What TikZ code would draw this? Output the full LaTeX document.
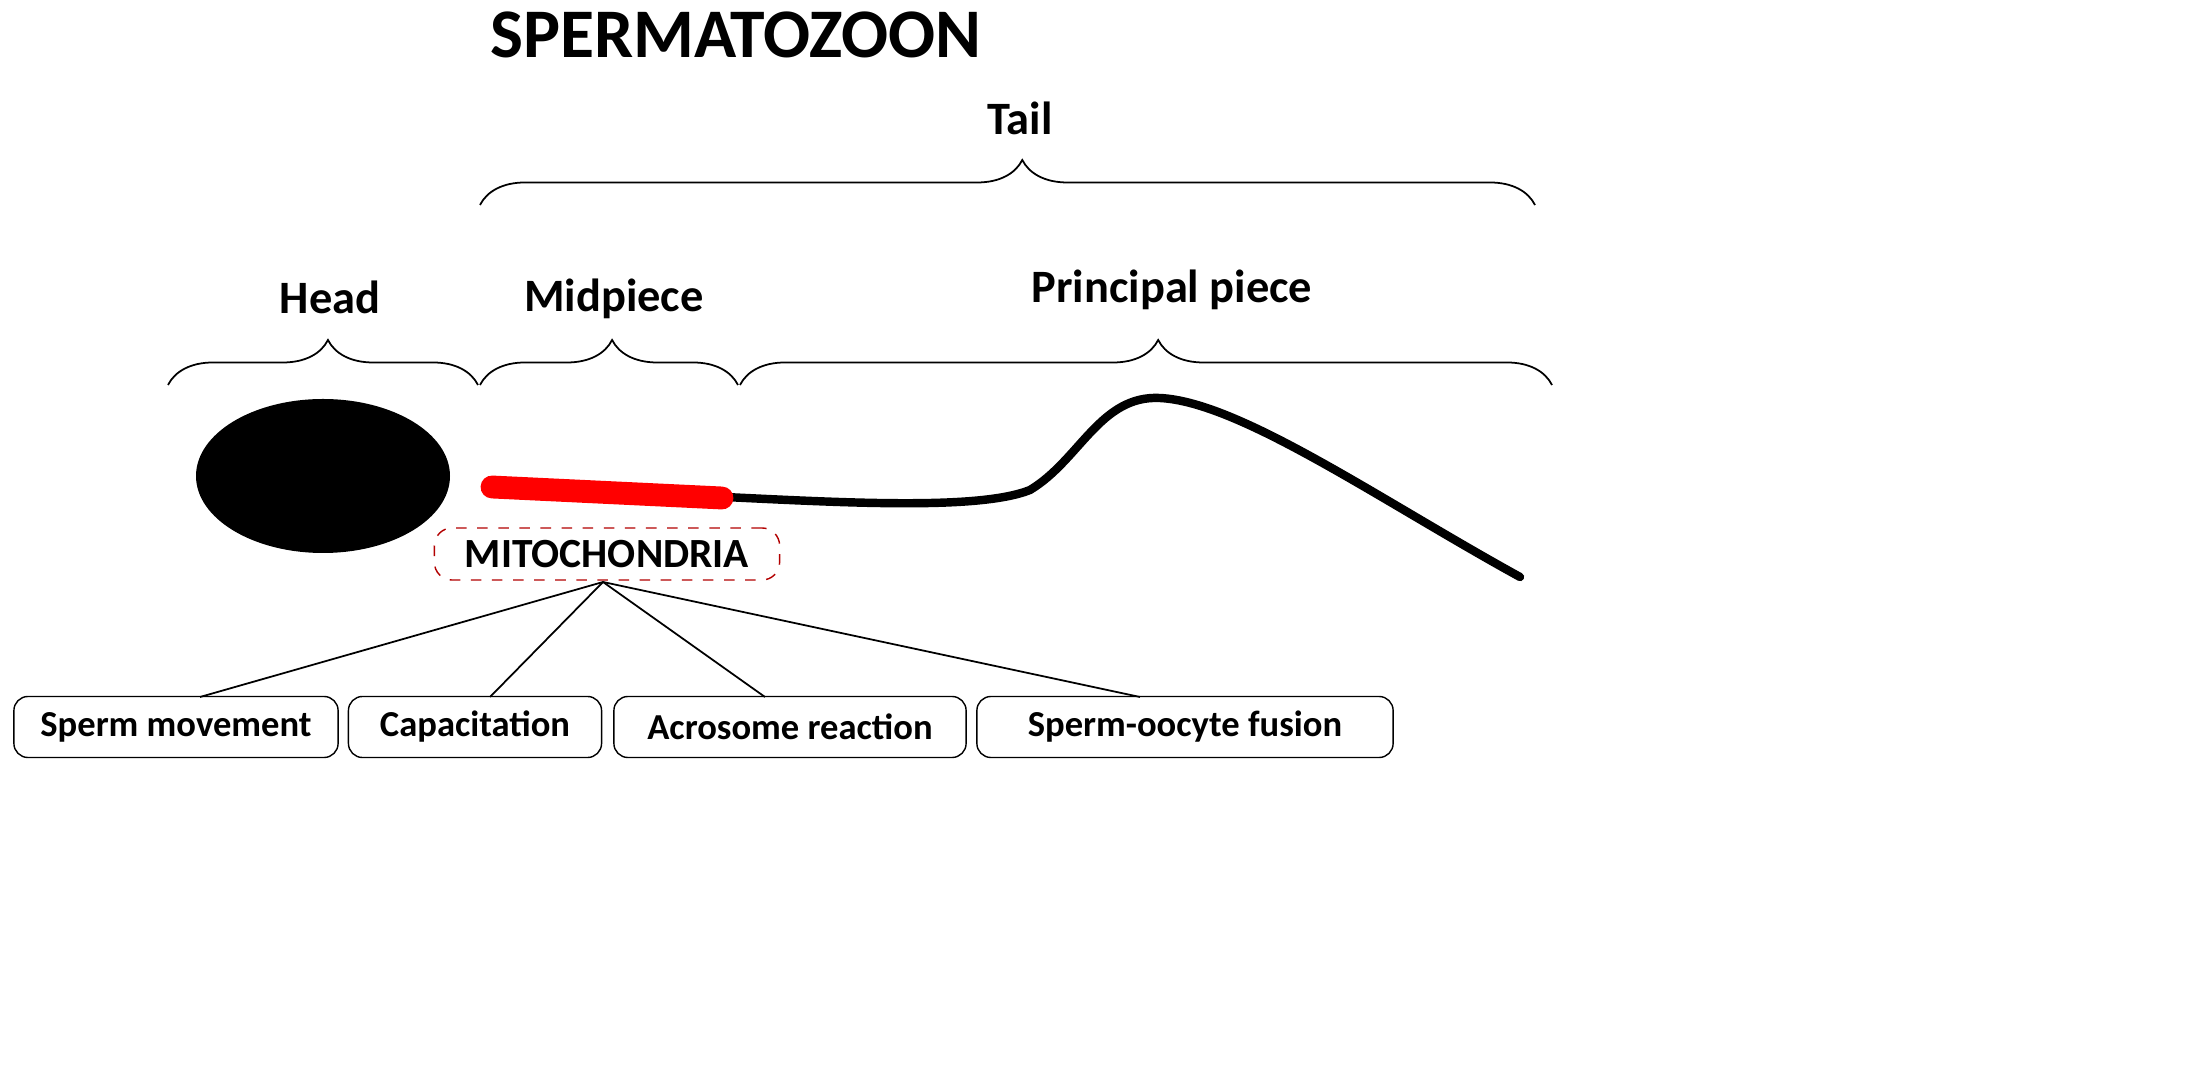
\documentclass[tikz,border=0pt]{standalone}
\usepackage{fontspec}
\setmainfont{Carlito}
\usetikzlibrary{decorations.pathreplacing}
\begin{document}
\begin{tikzpicture}[x=0.01cm,y=-0.01cm,
  br/.style={decorate,decoration={brace,amplitude=4.5mm,aspect=#1},line width=0.5pt},
  lab/.style={font=\fontsize{13.2}{15}\selectfont\bfseries},
  box/.style={draw,rounded corners=4pt,minimum height=0.61cm,font=\fontsize{10.4}{12}\selectfont\bfseries,inner sep=0pt},
  ln/.style={line width=0.5pt}]
\useasboundingbox (0,0) rectangle (2200,1083);
\node[font=\fontsize{19.8}{23}\selectfont\bfseries] (title) at (736,35) {SPERMATOZOON};
\coordinate (t1) at (480,205); \coordinate (t2) at (1535,205);
\draw[br=0.514] (t1) -- (t2);
\node[lab] (tail) at (1020,118) {Tail};
\coordinate (h1) at (168,385); \coordinate (h2) at (478,385);
\draw[br=0.516] (h1) -- (h2);
\node[lab] (head) at (330,297) {Head};
\coordinate (m1) at (480,385); \coordinate (m2) at (738,385);
\draw[br=0.512] (m1) -- (m2);
\node[lab] (mid) at (614,299) {Midpiece};
\coordinate (p1) at (740,385); \coordinate (p2) at (1552,385);
\draw[br=0.515] (p1) -- (p2);
\node[lab] (prin) at (1172,290) {Principal piece};
\fill (323,476) ellipse [x radius=127, y radius=77];
\draw[line width=2.4pt,line cap=round] (725,497) .. controls (850,503) and (980,510) .. (1030,490)
  .. controls (1080,460) and (1100,395) .. (1160,398)
  .. controls (1240,402) and (1380,500) .. (1520,577);
\draw[red,line width=6.5pt,line cap=round] (492,487) -- (722,498);
\node[draw=red!70!black,dashed,rounded corners=5pt,minimum width=3.45cm,minimum height=0.52cm,
  font=\fontsize{11.8}{13}\selectfont\bfseries] (mito) at (607,554) {MITOCHONDRIA};
\coordinate (hub) at (603,582);
\node[box,minimum width=3.24cm] (b1) at (176,727) {Sperm movement};
\node[box,minimum width=2.53cm] (b2) at (475,727) {Capacitation};
\node[box,minimum width=3.52cm] (b3) at (790,727) {Acrosome reaction};
\node[box,minimum width=4.16cm] (b4) at (1185,727) {Sperm-oocyte fusion};
\draw[ln] (hub) -- (200,697);
\draw[ln] (hub) -- (490,697);
\draw[ln] (hub) -- (765,697);
\draw[ln] (hub) -- (1140,697);
\end{tikzpicture}
\end{document}
